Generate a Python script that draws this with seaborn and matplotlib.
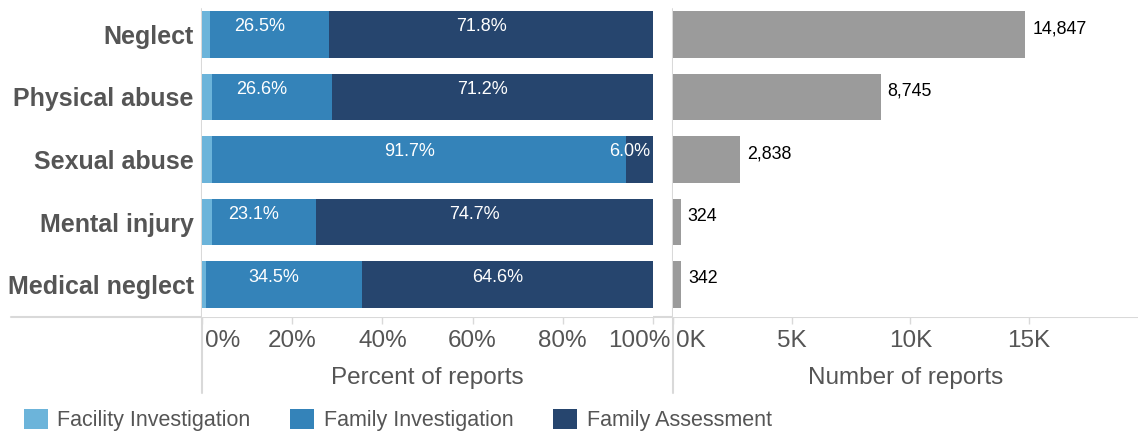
import matplotlib
matplotlib.use("Agg")
import numpy as np
import pandas as pd
import seaborn as sns
import matplotlib.pyplot as plt
from matplotlib.patches import Patch
from matplotlib.lines import Line2D
from matplotlib.transforms import ScaledTranslation

# ---------------- data ----------------
categories = ["Neglect", "Physical abuse", "Sexual abuse", "Mental injury", "Medical neglect"]
facility_pct = [1.7, 2.2, 2.3, 2.2, 0.9]
family_inv_pct = [26.5, 26.6, 91.7, 23.1, 34.5]
family_assess_pct = [71.8, 71.2, 6.0, 74.7, 64.6]
report_counts = [14847, 8745, 2838, 324, 342]
series_names = ["Facility Investigation", "Family Investigation", "Family Assessment"]
pct_ticks = [0, 20, 40, 60, 80, 100]
pct_tick_labels = ["0%", "20%", "40%", "60%", "80%", "100%"]
count_ticks = [0, 5000, 10000, 15000]
count_tick_labels = ["0K", "5K", "10K", "15K"]

# ---------------- style ----------------
c_fac = "#6cb4da"
c_inv = "#3483b9"
c_ass = "#26456e"
c_cnt = "#9b9b9b"
c_txt = "#555555"
c_line = "#d9d9d9"

sns.set_theme(style="white")
plt.rcParams["font.family"] = ["Liberation Sans", "DejaVu Sans"]

W, H = 1138, 436
fig = plt.figure(figsize=(W / 100, H / 100), dpi=100)

def px_axes(x0, x1, ytop, ybot):
    return fig.add_axes([x0 / W, 1 - ybot / H, (x1 - x0) / W, (ybot - ytop) / H])

ax1 = px_axes(202, 653, 2, 317)
ax2 = px_axes(673, 1138, 2, 317)

df = pd.DataFrame({
    "category": categories,
    "fac": facility_pct,
    "inv": family_inv_pct,
    "ass": family_assess_pct,
    "count": report_counts,
})
df["cum_inv"] = df["fac"] + df["inv"]
df["cum_all"] = df["cum_inv"] + df["ass"]

common = dict(y="category", orient="h", width=0.75, saturation=1, errorbar=None,
              linewidth=0, edgecolor="none")
sns.barplot(data=df, x="cum_all", color=c_ass, ax=ax1, **common)
sns.barplot(data=df, x="cum_inv", color=c_inv, ax=ax1, **common)
sns.barplot(data=df, x="fac", color=c_fac, ax=ax1, **common)
sns.barplot(data=df, x="count", color=c_cnt, ax=ax2, **common)

for ax in (ax1, ax2):
    ax.set_ylim(4.52, -0.52)
    for s in ax.spines.values():
        s.set_visible(False)
    ax.tick_params(axis="x", length=5, width=1, color=c_line, colors=c_txt,
                   labelsize=17.5, pad=4, direction="out", bottom=True)
    ax.tick_params(axis="x", color=c_line)

ax1.set_xlim(0, 100)
ax1.set_xticks(pct_ticks)
ax1.set_xticklabels(pct_tick_labels)
ax1.set_xlabel("Percent of reports", fontsize=17.5, color=c_txt, labelpad=11)
ax1.set_ylabel("")
ax1.set_yticks(range(len(categories)))
ax1.set_yticklabels(categories, fontsize=18, fontweight="bold", color=c_txt)
ax1.tick_params(axis="y", length=0, pad=6)

ax2.set_xlim(0, 19590)
ax2.set_xticks(count_ticks)
ax2.set_xticklabels(count_tick_labels)
ax2.set_xlabel("Number of reports", fontsize=17.5, color=c_txt, labelpad=11)
ax2.set_ylabel("")
ax2.set_yticks([])

# edge tick label nudges (as in the reference)
def nudge(label, dx_px, ha=None):
    label.set_transform(label.get_transform() + ScaledTranslation(dx_px / 100, 0, fig.dpi_scale_trans))
    if ha:
        label.set_ha(ha)

l1 = ax1.get_xticklabels()
nudge(l1[0], 3, "left")
nudge(l1[-1], -14)
l2 = ax2.get_xticklabels()
nudge(l2[0], 3, "left")

# percent labels
off = ScaledTranslation(-10 / 100, 0, fig.dpi_scale_trans)
for i in range(len(categories)):
    fac, inv, ass = facility_pct[i], family_inv_pct[i], family_assess_pct[i]
    ax1.text(fac + inv / 2, i - 0.12, f"{inv:.1f}%", ha="center", va="center",
             color="white", fontsize=13, transform=ax1.transData + off)
    ax1.text(fac + inv + ass / 2, i - 0.12, f"{ass:.1f}%", ha="center", va="center",
             color="white", fontsize=13, transform=ax1.transData + off)

# count labels
cnt_off = ScaledTranslation(7 / 100, 0, fig.dpi_scale_trans)
for i, v in enumerate(report_counts):
    ax2.text(v, i - 0.09, f"{v:,}", ha="left", va="center", color="black",
             fontsize=12.8, transform=ax2.transData + cnt_off)

# frame lines (pixel coordinates)
def pxline(x0, y0, x1, y1):
    fig.add_artist(Line2D([x0 / W, x1 / W], [1 - y0 / H, 1 - y1 / H],
                          transform=fig.transFigure, color=c_line, lw=1.5, zorder=0))

pxline(11, 317, 1138, 317)
pxline(202, 9, 202, 393)
pxline(673, 9, 673, 393)

# legend
handles = [Patch(facecolor=c, edgecolor="none") for c in (c_fac, c_inv, c_ass)]
leg = fig.legend(handles, series_names, loc="center left",
                 bbox_to_anchor=(24 / W, 1 - 420 / H), ncol=3, frameon=False,
                 borderaxespad=0, borderpad=0, handlelength=1.1, handleheight=1.1,
                 handletextpad=0.45, columnspacing=1.85, fontsize=15.5)
for t in leg.get_texts():
    t.set_color(c_txt)

fig.savefig("out.png", dpi=100)
